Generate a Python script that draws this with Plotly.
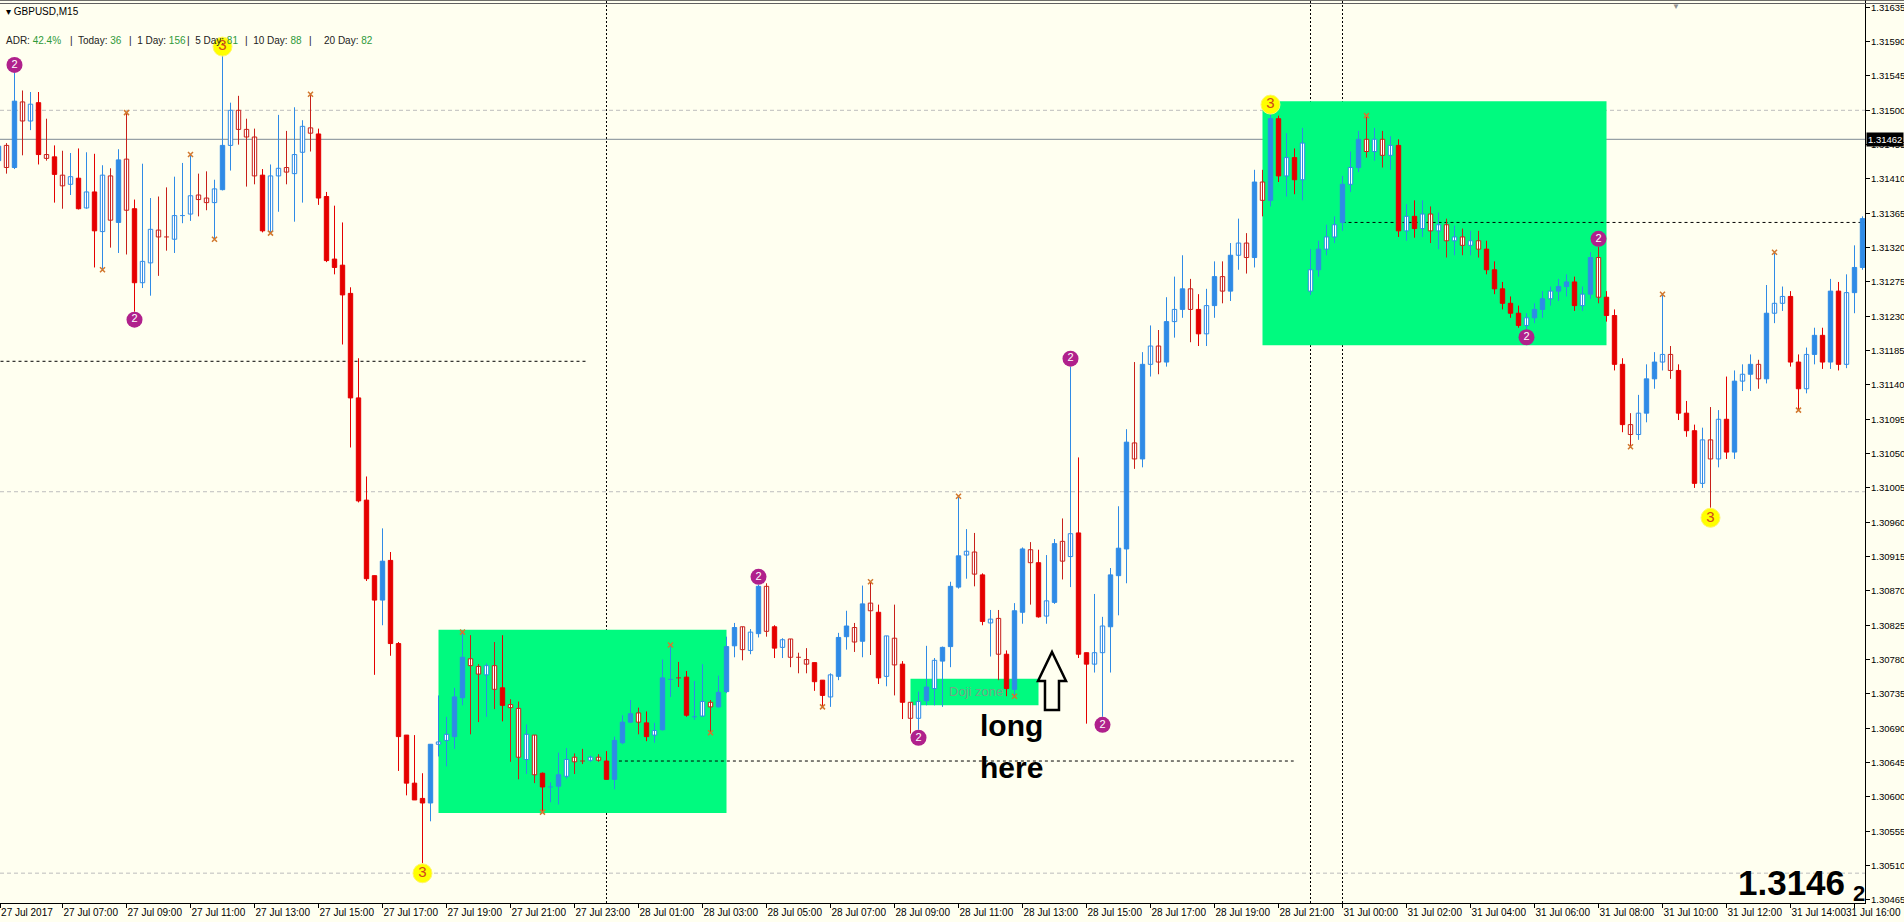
import plotly.graph_objects as go

# ---------------- data (GBPUSD M15, bars indexed from 27 Jul 05:00) ----------------
open_ = [
 1.31434, 1.31454, 1.31425, 1.31511, 1.31486, 1.31510, 1.31442, 1.31439, 1.31415, 1.31403,
 1.31411, 1.31372, 1.31393, 1.31341, 1.31414, 1.31353, 1.31436, 1.31371, 1.31274, 1.31300,
 1.31343, 1.31334, 1.31331, 1.31362, 1.31364, 1.31389, 1.31385, 1.31379, 1.31396, 1.31454,
 1.31500, 1.31475, 1.31465, 1.31415, 1.31341, 1.31414, 1.31425, 1.31417, 1.31445, 1.31477,
 1.31469, 1.31387, 1.31305, 1.31297, 1.31260, 1.31123, 1.30989, 1.30890, 1.30858, 1.30910,
 1.30801, 1.30681, 1.30618, 1.30598, 1.30592, 1.30669, 1.30674, 1.30679, 1.30730, 1.30781,
 1.30771, 1.30760, 1.30772, 1.30743, 1.30721, 1.30716, 1.30649, 1.30681, 1.30631, 1.30613,
 1.30614, 1.30627, 1.30652, 1.30647, 1.30648, 1.30652, 1.30647, 1.30623, 1.30671, 1.30698,
 1.30710, 1.30697, 1.30681, 1.30688, 1.30754, 1.30756, 1.30757, 1.30705, 1.30706, 1.30724,
 1.30718, 1.30738, 1.30798, 1.30823, 1.30792, 1.30814, 1.30876, 1.30823, 1.30796, 1.30807,
 1.30783, 1.30780, 1.30776, 1.30753, 1.30731, 1.30758, 1.30810, 1.30822, 1.30804, 1.30854,
 1.30842, 1.30758, 1.30808, 1.30774, 1.30724, 1.30703, 1.30726, 1.30742, 1.30778, 1.30797,
 1.30875, 1.30917, 1.30921, 1.30891, 1.30828, 1.30834, 1.30787, 1.30741, 1.30842, 1.30924,
 1.30907, 1.30837, 1.30855, 1.30935, 1.30915, 1.30946, 1.30789, 1.30774, 1.30789, 1.30823,
 1.30890, 1.30925, 1.31064, 1.31043, 1.31167, 1.31191, 1.31170, 1.31223, 1.31239, 1.31266,
 1.31239, 1.31207, 1.31244, 1.31282, 1.31263, 1.31310, 1.31326, 1.31307, 1.31406, 1.31382,
 1.31489, 1.31414, 1.31438, 1.31409, 1.31263, 1.31291, 1.31318, 1.31334, 1.31353, 1.31403,
 1.31425, 1.31462, 1.31446, 1.31462, 1.31441, 1.31454, 1.31342, 1.31361, 1.31345, 1.31364,
 1.31342, 1.31350, 1.31329, 1.31334, 1.31323, 1.31329, 1.31318, 1.31291, 1.31266, 1.31247,
 1.31234, 1.31218, 1.31228, 1.31239, 1.31253, 1.31263, 1.31269, 1.31275, 1.31244, 1.31259,
 1.31307, 1.31255, 1.31231, 1.31167, 1.31088, 1.31075, 1.31103, 1.31148, 1.31170, 1.31180,
 1.31159, 1.31103, 1.31080, 1.31011, 1.31068, 1.31043, 1.31095, 1.31052, 1.31145, 1.31154,
 1.31167, 1.31148, 1.31234, 1.31247, 1.31256, 1.31170, 1.31135, 1.31180, 1.31205, 1.31170,
 1.31263, 1.31167, 1.31261, 1.31294,
]
high = [
 1.31457, 1.31457, 1.31549, 1.31526, 1.31524, 1.31524, 1.31489, 1.31454, 1.31447, 1.31444,
 1.31450, 1.31445, 1.31443, 1.31428, 1.31424, 1.31449, 1.31497, 1.31383, 1.31430, 1.31385,
 1.31387, 1.31399, 1.31413, 1.31431, 1.31442, 1.31417, 1.31420, 1.31409, 1.31573, 1.31510,
 1.31519, 1.31489, 1.31476, 1.31423, 1.31429, 1.31494, 1.31473, 1.31504, 1.31487, 1.31521,
 1.31476, 1.31393, 1.31375, 1.31353, 1.31268, 1.31175, 1.31020, 1.30890, 1.30952, 1.30921,
 1.30803, 1.30681, 1.30681, 1.30631, 1.30669, 1.30733, 1.30705, 1.30743, 1.30816, 1.30812,
 1.30774, 1.30775, 1.30803, 1.30812, 1.30728, 1.30725, 1.30695, 1.30681, 1.30632, 1.30619,
 1.30658, 1.30664, 1.30657, 1.30663, 1.30654, 1.30656, 1.30660, 1.30679, 1.30707, 1.30727,
 1.30717, 1.30712, 1.30697, 1.30780, 1.30799, 1.30777, 1.30765, 1.30752, 1.30774, 1.30727,
 1.30759, 1.30810, 1.30828, 1.30823, 1.30820, 1.30878, 1.30880, 1.30825, 1.30808, 1.30807,
 1.30789, 1.30795, 1.30776, 1.30753, 1.30762, 1.30815, 1.30844, 1.30828, 1.30877, 1.30882,
 1.30852, 1.30811, 1.30852, 1.30778, 1.30724, 1.30738, 1.30798, 1.30782, 1.30797, 1.30882,
 1.30994, 1.30951, 1.30946, 1.30893, 1.30845, 1.30845, 1.30792, 1.30854, 1.30927, 1.30934,
 1.30924, 1.30917, 1.30938, 1.30965, 1.31164, 1.31045, 1.30789, 1.30866, 1.30836, 1.30900,
 1.30981, 1.31082, 1.31170, 1.31183, 1.31218, 1.31212, 1.31255, 1.31282, 1.31310, 1.31279,
 1.31259, 1.31266, 1.31302, 1.31302, 1.31326, 1.31358, 1.31339, 1.31422, 1.31422, 1.31497,
 1.31493, 1.31470, 1.31450, 1.31477, 1.31318, 1.31329, 1.31350, 1.31361, 1.31414, 1.31446,
 1.31473, 1.31493, 1.31477, 1.31473, 1.31466, 1.31462, 1.31377, 1.31382, 1.31382, 1.31374,
 1.31366, 1.31358, 1.31349, 1.31345, 1.31342, 1.31342, 1.31329, 1.31302, 1.31275, 1.31256,
 1.31244, 1.31234, 1.31247, 1.31263, 1.31269, 1.31279, 1.31285, 1.31282, 1.31269, 1.31314,
 1.31321, 1.31263, 1.31239, 1.31175, 1.31103, 1.31127, 1.31167, 1.31183, 1.31259, 1.31191,
 1.31167, 1.31119, 1.31088, 1.31084, 1.31111, 1.31107, 1.31151, 1.31159, 1.31167, 1.31180,
 1.31173, 1.31271, 1.31314, 1.31269, 1.31263, 1.31180, 1.31189, 1.31215, 1.31215, 1.31279,
 1.31275, 1.31285, 1.31323, 1.31361,
]
low = [
 1.31431, 1.31417, 1.31423, 1.31441, 1.31474, 1.31429, 1.31434, 1.31379, 1.31371, 1.31389,
 1.31370, 1.31371, 1.31294, 1.31291, 1.31320, 1.31313, 1.31311, 1.31236, 1.31267, 1.31257,
 1.31283, 1.31316, 1.31313, 1.31352, 1.31355, 1.31361, 1.31369, 1.31331, 1.31395, 1.31421,
 1.31455, 1.31400, 1.31403, 1.31340, 1.31339, 1.31367, 1.31403, 1.31354, 1.31379, 1.31446,
 1.31376, 1.31301, 1.31285, 1.31193, 1.31058, 1.30986, 1.30883, 1.30760, 1.30825, 1.30785,
 1.30634, 1.30602, 1.30596, 1.30513, 1.30568, 1.30653, 1.30640, 1.30663, 1.30720, 1.30682,
 1.30698, 1.30705, 1.30715, 1.30699, 1.30646, 1.30623, 1.30630, 1.30618, 1.30580, 1.30593,
 1.30590, 1.30624, 1.30630, 1.30643, 1.30646, 1.30646, 1.30623, 1.30610, 1.30669, 1.30697,
 1.30682, 1.30673, 1.30671, 1.30687, 1.30731, 1.30744, 1.30705, 1.30701, 1.30705, 1.30684,
 1.30717, 1.30736, 1.30783, 1.30779, 1.30787, 1.30809, 1.30810, 1.30782, 1.30782, 1.30770,
 1.30762, 1.30762, 1.30739, 1.30718, 1.30718, 1.30753, 1.30793, 1.30790, 1.30783, 1.30786,
 1.30748, 1.30745, 1.30733, 1.30702, 1.30683, 1.30688, 1.30720, 1.30720, 1.30718, 1.30770,
 1.30873, 1.30886, 1.30876, 1.30825, 1.30784, 1.30753, 1.30732, 1.30732, 1.30827, 1.30852,
 1.30835, 1.30827, 1.30853, 1.30885, 1.30875, 1.30782, 1.30696, 1.30763, 1.30705, 1.30763,
 1.30838, 1.30880, 1.31030, 1.31032, 1.31151, 1.31154, 1.31164, 1.31202, 1.31228, 1.31196,
 1.31191, 1.31191, 1.31228, 1.31247, 1.31250, 1.31291, 1.31286, 1.31294, 1.31361, 1.31374,
 1.31406, 1.31387, 1.31390, 1.31382, 1.31258, 1.31282, 1.31310, 1.31326, 1.31342, 1.31393,
 1.31419, 1.31438, 1.31434, 1.31425, 1.31422, 1.31334, 1.31329, 1.31333, 1.31334, 1.31326,
 1.31318, 1.31307, 1.31310, 1.31310, 1.31310, 1.31307, 1.31285, 1.31259, 1.31239, 1.31228,
 1.31215, 1.31213, 1.31221, 1.31228, 1.31244, 1.31250, 1.31256, 1.31237, 1.31237, 1.31253,
 1.31247, 1.31223, 1.31159, 1.31078, 1.31059, 1.31068, 1.31091, 1.31135, 1.31159, 1.31148,
 1.31094, 1.31072, 1.31005, 1.31005, 1.30979, 1.31032, 1.31043, 1.31043, 1.31132, 1.31132,
 1.31135, 1.31142, 1.31221, 1.31237, 1.31164, 1.31107, 1.31129, 1.31167, 1.31161, 1.31161,
 1.31159, 1.31162, 1.31234, 1.31291,
]
close = [
 1.31453, 1.31425, 1.31512, 1.31486, 1.31508, 1.31442, 1.31437, 1.31416, 1.31401, 1.31413,
 1.31371, 1.31393, 1.31342, 1.31415, 1.31356, 1.31435, 1.31369, 1.31274, 1.31302, 1.31344,
 1.31334, 1.31332, 1.31362, 1.31363, 1.31388, 1.31383, 1.31379, 1.31397, 1.31454, 1.31500,
 1.31475, 1.31465, 1.31414, 1.31342, 1.31414, 1.31424, 1.31419, 1.31442, 1.31479, 1.31470,
 1.31385, 1.31303, 1.31294, 1.31258, 1.31123, 1.30988, 1.30886, 1.30858, 1.30909, 1.30801,
 1.30679, 1.30618, 1.30596, 1.30592, 1.30669, 1.30672, 1.30682, 1.30731, 1.30783, 1.30772,
 1.30761, 1.30772, 1.30741, 1.30720, 1.30717, 1.30652, 1.30682, 1.30629, 1.30613, 1.30614,
 1.30629, 1.30649, 1.30646, 1.30645, 1.30652, 1.30648, 1.30623, 1.30674, 1.30698, 1.30709,
 1.30698, 1.30679, 1.30687, 1.30756, 1.30755, 1.30755, 1.30707, 1.30707, 1.30725, 1.30718,
 1.30737, 1.30797, 1.30822, 1.30793, 1.30816, 1.30876, 1.30817, 1.30795, 1.30806, 1.30783,
 1.30781, 1.30774, 1.30751, 1.30733, 1.30760, 1.30809, 1.30824, 1.30803, 1.30853, 1.30844,
 1.30756, 1.30811, 1.30773, 1.30724, 1.30703, 1.30725, 1.30744, 1.30779, 1.30796, 1.30876,
 1.30916, 1.30922, 1.30892, 1.30830, 1.30833, 1.30787, 1.30742, 1.30844, 1.30925, 1.30907,
 1.30836, 1.30857, 1.30932, 1.30909, 1.30945, 1.30787, 1.30774, 1.30789, 1.30824, 1.30891,
 1.30926, 1.31065, 1.31043, 1.31167, 1.31191, 1.31170, 1.31223, 1.31239, 1.31266, 1.31239,
 1.31207, 1.31244, 1.31282, 1.31263, 1.31310, 1.31326, 1.31307, 1.31406, 1.31382, 1.31489,
 1.31414, 1.31438, 1.31409, 1.31457, 1.31291, 1.31318, 1.31334, 1.31350, 1.31403, 1.31425,
 1.31462, 1.31446, 1.31462, 1.31441, 1.31454, 1.31342, 1.31361, 1.31345, 1.31364, 1.31342,
 1.31350, 1.31329, 1.31334, 1.31323, 1.31329, 1.31318, 1.31291, 1.31266, 1.31247, 1.31234,
 1.31218, 1.31228, 1.31239, 1.31253, 1.31263, 1.31269, 1.31275, 1.31244, 1.31259, 1.31307,
 1.31255, 1.31231, 1.31167, 1.31088, 1.31075, 1.31103, 1.31148, 1.31170, 1.31180, 1.31159,
 1.31103, 1.31080, 1.31011, 1.31068, 1.31043, 1.31095, 1.31052, 1.31145, 1.31154, 1.31167,
 1.31148, 1.31234, 1.31247, 1.31256, 1.31170, 1.31135, 1.31180, 1.31205, 1.31170, 1.31263,
 1.31167, 1.31261, 1.31294, 1.31358,
]
# bar class from the candle-colour indicator: B/R = strong bull/bear (filled), b/r = normal (hollow)
kind = list(
 "BrBrbRrRrb" "RbRbrBrRbb" "rrbbbrrbBb" "rrrRbbrbbr" "RRRRRRRRBR"
 "RRRRBbbBBr" "rbrRrrbrRb" "BbrrbrRBBB" "rRbBbrRbbr" "BBBrbBrRbr"
 "rrRRbBBrBr" "RbrRrbBbBB" "BbrRbrRBBr" "RbBrbRRbbB" "BBrBbrBbBr"
 "RbBrBbrBrB" "RbRbbBbbBb" "BrbrbRbRbr" "brbrbrRRRR" "RbBBbBBRbB"
 "rRRRrbBBbr" "RRRbrbRBbB" "rBbbRRbBRB" "RbBB"
)

N_BARS = 234  # 27 Jul 05:00 ... 31 Jul 16:15 (weekend bars removed)
x_tick_idx = [0.2, 8, 16, 24, 32, 40, 48, 56, 64, 72, 80, 88, 96, 104, 112, 120, 128, 136,
              144, 152, 160, 168, 176, 184, 192, 200, 208, 216, 224, 232]
x_tick_text = ["27 Jul 2017", "27 Jul 07:00", "27 Jul 09:00", "27 Jul 11:00", "27 Jul 13:00",
               "27 Jul 15:00", "27 Jul 17:00", "27 Jul 19:00", "27 Jul 21:00", "27 Jul 23:00",
               "28 Jul 01:00", "28 Jul 03:00", "28 Jul 05:00", "28 Jul 07:00", "28 Jul 09:00",
               "28 Jul 11:00", "28 Jul 13:00", "28 Jul 15:00", "28 Jul 17:00", "28 Jul 19:00",
               "28 Jul 21:00", "31 Jul 00:00", "31 Jul 02:00", "31 Jul 04:00", "31 Jul 06:00",
               "31 Jul 08:00", "31 Jul 10:00", "31 Jul 12:00", "31 Jul 14:00", "31 Jul 16:00"]
y_tick_vals = [round(1.30465 + 0.00045 * k, 5) for k in range(27)]

bid_price = 1.31462
round_levels = [1.3150, 1.3100, 1.3050]
# daily open lines: (first bar, last bar, price)
day_open_lines = [(-0.5, 73.6, 1.31171), (76.8, 161.9, 1.30647), (168, 233.5, 1.31353)]
day_separators = [76, 164, 168]
# rectangles: (bar0, bar1, price low, price high)
zones = [(55, 91, 1.30579, 1.30819), (158, 201, 1.31192, 1.31512)]
doji_zone = (114, 130, 1.30720, 1.30755)

two_up = [2, 95, 134, 200]
two_down = [17, 115, 138, 191]
three_up = [28, 159]
three_down = [53, 214]
frac_up = [16, 24, 39, 58, 84, 109, 120, 171, 208, 222]
frac_down = [13, 27, 34, 68, 89, 103, 127, 204, 225]

# ---------------- styling ----------------
BG = "#FFFFF0"
BLUE = "#2F8BE6"
RED = "#E50000"
RED_H = "#C8201A"
GREEN = "#00FA7F"
FONT = "Liberation Sans, Arial, sans-serif"

n = len(open_)
YMIN, YMAX = 1.304609, 1.316446
XMIN, XMAX = 0.1875, 233.3125

fig = go.Figure()


def wick_trace(idx, color):
    xs, ys = [], []
    for i in idx:
        xs += [i, i, None]
        ys += [low[i], high[i], None]
        if abs(close[i] - open_[i]) < 0.000025:
            xs += [i - 0.3, i + 0.3, None]
            ys += [open_[i], open_[i], None]
    return go.Scatter(x=xs, y=ys, mode="lines", line=dict(color=color, width=1),
                      hoverinfo="skip", showlegend=False)


styles = {"B": (BLUE, BLUE), "b": ("#FFFFFF", BLUE), "R": (RED, RED), "r": ("#FFFFFF", RED_H)}
for k, (fill, edge) in styles.items():
    idx = [i for i in range(n) if kind[i] == k]
    fig.add_trace(wick_trace(idx, edge))
for k, (fill, edge) in styles.items():
    idx = [i for i in range(n) if kind[i] == k and abs(close[i] - open_[i]) >= 0.000025]
    fig.add_trace(go.Bar(x=idx, y=[abs(close[i] - open_[i]) for i in idx],
                         base=[min(open_[i], close[i]) for i in idx], width=0.55,
                         marker=dict(color=fill, line=dict(color=edge, width=1)),
                         hoverinfo="skip", showlegend=False))

PIX = (YMAX - YMIN) / 903.0
# fractal crosses
fig.add_trace(go.Scatter(x=frac_up + frac_down,
                         y=[high[i] for i in frac_up] + [low[i] for i in frac_down],
                         mode="markers",
                         marker=dict(symbol="x-thin", size=5, line=dict(width=1.5, color="#D2782F")),
                         hoverinfo="skip", showlegend=False))
# zigzag level circles
fig.add_trace(go.Scatter(x=two_up + two_down,
                         y=[high[i] + 8 * PIX for i in two_up] + [low[i] - 8 * PIX for i in two_down],
                         mode="markers+text", text=["2"] * (len(two_up) + len(two_down)),
                         textposition="middle center",
                         textfont=dict(family=FONT, size=11, color="white"),
                         marker=dict(size=16, color="#B0218C"),
                         hoverinfo="skip", showlegend=False))
fig.add_trace(go.Scatter(x=three_up + three_down,
                         y=[high[i] + 8 * PIX for i in three_up] + [low[i] - 10 * PIX for i in three_down],
                         mode="markers+text", text=["3"] * (len(three_up) + len(three_down)),
                         textposition="middle center",
                         textfont=dict(family=FONT, size=15, color="#D0451B"),
                         marker=dict(size=19, color="#FFFF00", line=dict(color="#FFF56A", width=1)),
                         hoverinfo="skip", showlegend=False))

shapes = []
for (x0, x1, y0, y1) in zones:
    shapes.append(dict(type="rect", xref="x", yref="y", x0=x0, x1=x1, y0=y0, y1=y1,
                       fillcolor=GREEN, line=dict(width=0), layer="below"))
shapes.append(dict(type="rect", xref="x", yref="y", x0=doji_zone[0], x1=doji_zone[1],
                   y0=doji_zone[2], y1=doji_zone[3], fillcolor=GREEN, line=dict(width=0), layer="below"))
for lv in round_levels:
    shapes.append(dict(type="line", xref="paper", yref="y", x0=0, x1=1, y0=lv, y1=lv,
                       line=dict(color="#BDBDBD", width=1, dash="4px,3px"), layer="below"))
shapes.append(dict(type="line", xref="paper", yref="y", x0=0, x1=1, y0=bid_price, y1=bid_price,
                   line=dict(color="#7E8A94", width=1), layer="below"))
for (x0, x1, p) in day_open_lines:
    shapes.append(dict(type="line", xref="x", yref="y", x0=x0, x1=x1, y0=p, y1=p,
                       line=dict(color="black", width=1, dash="3px,3px"), layer="below"))
for s in day_separators:
    shapes.append(dict(type="line", xref="x", yref="paper", x0=s, x1=s, y0=0, y1=1,
                       line=dict(color="black", width=1, dash="2px,2px"), layer="below"))
# hollow up arrow (drawn object)
arrow_x = [131.69, 133.44, 132.56, 132.56, 130.81, 130.81, 129.94]
arrow_y = [1.30790, 1.30752, 1.30752, 1.30714, 1.30714, 1.30752, 1.30752]
path = "M " + " L ".join(f"{a},{b}" for a, b in zip(arrow_x, arrow_y)) + " Z"
shapes.append(dict(type="path", xref="x", yref="y", path=path, fillcolor=BG,
                   line=dict(color="black", width=2.5)))
# window top border (double line)
shapes.append(dict(type="line", xref="paper", yref="paper", x0=0, x1=1.03, y0=1, y1=1,
                   line=dict(color="#404040", width=1.5)))
shapes.append(dict(type="line", xref="paper", yref="paper", x0=0, x1=1.03, y0=1 - 3.5 / 903,
                   y1=1 - 3.5 / 903, line=dict(color="#606060", width=1)))

ann = []
for v in y_tick_vals:
    ann.append(dict(xref="paper", yref="y", x=1, y=v, xanchor="left", yanchor="middle",
                    xshift=4, text=f"{v:.5f}", showarrow=False,
                    font=dict(family=FONT, size=9.5, color="black")))
ann.append(dict(xref="paper", yref="y", x=1, y=bid_price, xanchor="left", yanchor="middle",
                text="1.31462", showarrow=False, bgcolor="black", borderpad=1, xshift=1,
                font=dict(family=FONT, size=9.5, color="white")))
# last time label is pushed left so it stays inside the window (as the terminal does)
ann.append(dict(xref="paper", yref="paper", x=1903 / 1865, y=1 - 912 / 903, xanchor="right",
                yanchor="middle", text=x_tick_text[-1], showarrow=False,
                font=dict(family=FONT, size=10, color="black")))
ann.append(dict(xref="paper", yref="paper", x=4 / 1865, y=1 - 11 / 903, xanchor="left", yanchor="middle",
                text="▾ GBPUSD,M15", showarrow=False, font=dict(family=FONT, size=10, color="black")))
adr = [(4, "ADR: ", "42.4%"), (68, "|  Today: ", "36"), (127, "|  1 Day: ", "156"),
       (185, "|  5 Day: ", "81"), (243, "|  10 Day: ", "88"), (307, "|", ""), (322, "20 Day: ", "82")]
for xpx, lab, val in adr:
    ann.append(dict(xref="paper", yref="paper", x=xpx / 1865, y=1 - 40 / 903, xanchor="left",
                    yanchor="middle", showarrow=False,
                    text=f"{lab}<span style='color:#2E9A3A'>{val}</span>",
                    font=dict(family=FONT, size=10, color="#222222")))
ann.append(dict(xref="x", yref="y", x=118.6, y=(doji_zone[2] + doji_zone[3]) / 2, xanchor="left",
                yanchor="middle", text="Doji zone", showarrow=False,
                font=dict(family=FONT, size=13, color="#76A486")))
ann.append(dict(xref="x", yref="y", x=126.6, y=1.30694, xanchor="center", yanchor="middle",
                text="<b>long</b>", showarrow=False, font=dict(family=FONT, size=30, color="black")))
ann.append(dict(xref="x", yref="y", x=126.6, y=1.30638, xanchor="center", yanchor="middle",
                text="<b>here</b>", showarrow=False, font=dict(family=FONT, size=30, color="black")))
ann.append(dict(xref="paper", yref="paper", x=1847 / 1865, y=1 - 882 / 903, xanchor="right",
                yanchor="middle", text="<b>1.3146</b>", showarrow=False,
                font=dict(family=FONT, size=35, color="black")))
ann.append(dict(xref="paper", yref="paper", x=1851 / 1865, y=1 - 893 / 903, xanchor="left",
                yanchor="middle", text="<b>2</b>", showarrow=False,
                font=dict(family=FONT, size=22, color="black")))
ann.append(dict(xref="paper", yref="paper", x=1676 / 1865, y=1, xanchor="center", yanchor="top",
                text="▼", showarrow=False, font=dict(family=FONT, size=8, color="#909090")))

fig.update_layout(
    template="none", width=1904, height=922, margin=dict(l=0, r=39, t=0, b=19),
    paper_bgcolor=BG, plot_bgcolor=BG, barmode="overlay", showlegend=False,
    shapes=shapes, annotations=ann,
    xaxis=dict(range=[XMIN, XMAX], tickvals=x_tick_idx,
               ticktext=x_tick_text[:-1] + [""], ticks="outside",
               ticklen=4, tickcolor="black", showline=True, linecolor="black", linewidth=1,
               showgrid=False, zeroline=False, automargin=False, ticklabelposition="outside right",
               ticklabeloverflow="allow", tickangle=0,
               tickfont=dict(family=FONT, size=10, color="black"), fixedrange=True),
    yaxis=dict(range=[YMIN, YMAX], side="right", tickvals=y_tick_vals, showticklabels=False,
               ticks="outside", ticklen=4, tickcolor="black", showline=True, linecolor="black",
               linewidth=1, showgrid=False, zeroline=False, automargin=False, fixedrange=True),
)
fig.write_html("out.html", config={"displayModeBar": False},
               post_script="document.body.style.margin='0px';")
